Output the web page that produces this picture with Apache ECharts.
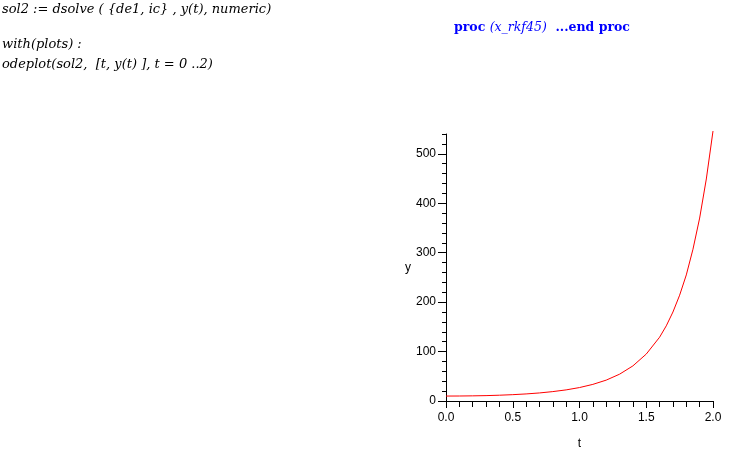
<!DOCTYPE html>
<html><head><meta charset="utf-8">
<script src="https://cdn.jsdelivr.net/npm/echarts@6/dist/echarts.min.js"></script>
<style>html,body{margin:0;padding:0;background:#fff}#c{width:735px;height:458px}</style>
</head><body><div id="c"></div>
<script>
// Data
var tValues = [0.0, 0.1, 0.2, 0.3, 0.4, 0.5, 0.6, 0.7, 0.8, 0.9, 1.0, 1.1, 1.2, 1.3, 1.4, 1.5, 1.6, 1.65, 1.7, 1.75, 1.8, 1.85, 1.9, 1.95, 2.0];
var yValues = [10.0, 10.1, 10.4, 10.9, 11.7, 12.8, 14.3, 16.3, 19.0, 22.5, 27.2, 33.6, 42.2, 54.2, 71.0, 94.9, 129, 152, 180, 214, 255, 307, 370, 449, 546];
var xTickLabels = ["0.0", "0.5", "1.0", "1.5", "2.0"];
var yTickLabels = ["0", "100", "200", "300", "400", "500"];
var codeLines = ["sol2 := dsolve ( {de1, ic} , y(t), numeric)", "with(plots) :", "odeplot(sol2,  [t, y(t) ], t = 0 ..2)"];

var pts = tValues.map(function (t, i) { return [t, yValues[i]]; });
var chart = echarts.init(document.getElementById('c'));
var axisFont = { fontFamily: 'Liberation Sans, Arial, sans-serif', fontSize: 12, color: '#000' };
var codeFont = 'italic 13px "DejaVu Serif", serif';
chart.setOption({
  animation: false,
  backgroundColor: '#fff',
  grid: [{ left: 446, right: 22, top: 134, bottom: 57, containLabel: false }],
  xAxis: [{
    type: 'value', min: 0, max: 2, interval: 0.5,
    name: 't', nameLocation: 'middle', nameGap: 37,
    nameTextStyle: axisFont,
    axisLine: { lineStyle: { color: '#000', width: 1 } },
    axisTick: { length: 7, lineStyle: { color: '#000' } },
    axisLabel: Object.assign({ margin: 11, formatter: function (v) { return xTickLabels[Math.round(v * 2)] || ''; } }, axisFont),
    splitLine: { show: false }
  }, {
    type: 'value', min: 0, max: 2, interval: 0.1, position: 'bottom',
    axisLine: { show: false },
    axisTick: { show: true, length: 6, lineStyle: { color: '#000' } },
    axisLabel: { show: false },
    splitLine: { show: false }
  }],
  yAxis: [{
    type: 'value', min: 0, max: 540, interval: 100,
    name: 'y', nameLocation: 'middle', nameGap: 33, nameRotate: 0,
    nameTextStyle: axisFont,
    axisLine: { lineStyle: { color: '#000', width: 1 } },
    axisTick: { length: 8, lineStyle: { color: '#000' } },
    axisLabel: Object.assign({ margin: 10, showMaxLabel: false, formatter: function (v) { return yTickLabels[Math.round(v / 100)] || ''; } }, axisFont),
    splitLine: { show: false }
  }, {
    type: 'value', min: 0, max: 540, interval: 20, position: 'left',
    axisLine: { show: false },
    axisTick: { show: true, length: 4, lineStyle: { color: '#000' } },
    axisLabel: { show: false },
    splitLine: { show: false }
  }],
  series: [{
    type: 'line', data: pts, showSymbol: false, clip: false,
    lineStyle: { color: '#ff0000', width: 1 }, itemStyle: { color: '#ff0000' }
  }],
  graphic: [
    { type: 'text', left: 2, top: 3, style: { text: codeLines[0], font: codeFont, fill: '#000' } },
    { type: 'text', left: 2, top: 38, style: { text: codeLines[1], font: codeFont, fill: '#000' } },
    { type: 'text', left: 2, top: 58, style: { text: codeLines[2], font: codeFont, fill: '#000' } },
    { type: 'text', left: 454, top: 21, style: {
      text: '{b|proc }{i|(x_rkf45)}{b|  ...end proc}',
      rich: {
        b: { font: 'bold 12.5px "DejaVu Serif", serif', fill: '#0000ff' },
        i: { font: 'italic 12.5px "DejaVu Serif", serif', fill: '#0000ff' }
      } } }
  ]
});
</script></body></html>
